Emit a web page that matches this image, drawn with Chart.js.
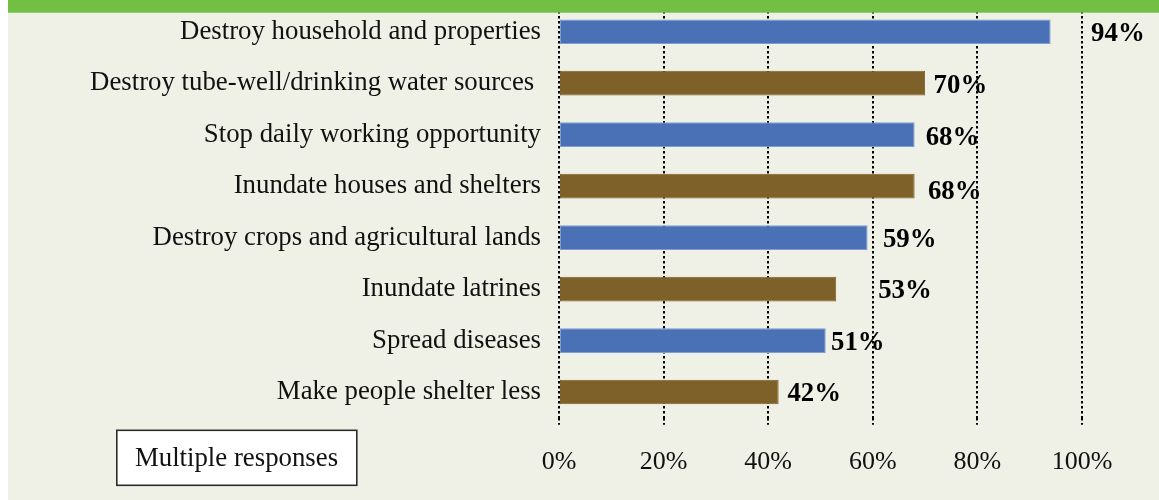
<!DOCTYPE html>
<html>
<head>
<meta charset="utf-8">
<script src="https://cdn.jsdelivr.net/npm/chart.js@4/dist/chart.umd.min.js"></script>
<style>
  html, body { margin: 0; padding: 0; background: #EFF1E7; }
  #wrap { width: 1159px; height: 500px; }
</style>
</head>
<body>
<div id="wrap"><canvas id="c" width="1159" height="500"></canvas></div>
<script>
// Effects reported by households (multiple responses, % of respondents)
const effects = [
  'Destroy household and properties',
  'Destroy tube-well/drinking water sources ',
  'Stop daily working opportunity',
  'Inundate houses and shelters',
  'Destroy crops and agricultural lands',
  'Inundate latrines',
  'Spread diseases',
  'Make people shelter less'
];
const shares = [94, 70, 68, 68, 59, 53, 51, 42];
const axisTicks = [0, 20, 40, 60, 80, 100];
const noteText = 'Multiple responses';

const SERIF = "'Liberation Serif', 'Times New Roman', serif";
const BLUE = '#4A71B6';
const BROWN = '#7E6029';

// Page furniture: background, header band, left margin strip, note box
const framePlugin = {
  id: 'frame',
  beforeDraw(chart) {
    const c = chart.ctx;
    c.save();
    c.fillStyle = '#EFF1E7';
    c.fillRect(0, 0, chart.width, chart.height);
    c.restore();
  },
  afterDraw(chart) {
    const c = chart.ctx;
    c.save();
    c.fillStyle = '#72BF44';
    c.fillRect(0, 0, chart.width, 12.7);
    c.fillStyle = '#FFFFFF';
    c.fillRect(0, 0, 8, chart.height);
    // note box
    c.fillStyle = '#FFFFFF';
    c.fillRect(116, 429.5, 241.5, 56.5);
    c.strokeStyle = '#2B2B2B';
    c.lineWidth = 1.6;
    c.strokeRect(116.8, 430.3, 240, 55);
    c.fillStyle = '#111111';
    c.font = '26.8px ' + SERIF;
    c.textAlign = 'center';
    c.textBaseline = 'alphabetic';
    c.fillText(noteText, 236.5, 466);
    c.restore();
  }
};

// Bold value labels at the end of each bar
const valueLabelPlugin = {
  id: 'valueLabels',
  afterDatasetsDraw(chart, args, opts) {
    const c = chart.ctx;
    const meta = chart.getDatasetMeta(0);
    c.save();
    c.fillStyle = '#000000';
    c.font = 'bold 26.8px ' + SERIF;
    c.textAlign = 'left';
    c.textBaseline = 'middle';
    meta.data.forEach((bar, i) => {
      const v = chart.data.datasets[0].data[i];
      const dx = opts.shiftX[i];
      const dy = opts.shiftY[i];
      c.fillText(v + '%', bar.x + dx, bar.y + dy + 1);
    });
    c.restore();
  }
};

Chart.defaults.font.family = SERIF;
Chart.defaults.color = '#111111';

new Chart(document.getElementById('c'), {
  type: 'bar',
  data: {
    labels: effects,
    datasets: [{
      data: shares,
      backgroundColor: ctx => (ctx.dataIndex % 2 === 0 ? BLUE : BROWN),
      borderColor: ctx => (ctx.dataIndex % 2 === 0 ? '#7E9CD2' : BROWN),
      borderWidth: 1,
      borderSkipped: false,
      categoryPercentage: 1,
      barPercentage: 0.48
    }]
  },
  options: {
    indexAxis: 'y',
    responsive: false,
    animation: false,
    events: [],
    layout: { padding: { top: 6, right: 77, bottom: 0, left: 0 } },
    plugins: {
      legend: { display: false },
      tooltip: { enabled: false },
      valueLabels: {
        shiftX: [40.5, 8.5, 11, 13.3, 15.4, 42, 5.3, 8.8],
        shiftY: [1.5, 1.4, 2.4, 5.4, 1.8, 1.0, 1.9, 1.2]
      }
    },
    scales: {
      x: {
        min: axisTicks[0],
        max: axisTicks[axisTicks.length - 1],
        afterBuildTicks(scale) {
          scale.ticks = axisTicks.map(v => ({ value: v }));
        },
        afterFit(scale) { scale.height = 82.25; },
        border: { display: false, dash: [2.5, 2.5] },
        grid: {
          color: '#000000',
          lineWidth: 2,
          drawTicks: true,
          tickLength: 7,
          tickColor: '#000000',
          tickWidth: 2,
          tickBorderDash: [2.5, 2.5]
        },
        ticks: {
          padding: 22,
          color: '#111111',
          font: { size: 26, family: SERIF },
          callback: v => v + '%'
        }
      },
      y: {
        afterFit(scale) {
          scale.width = 559;
          scale.paddingTop = 0;
          scale.paddingBottom = 0;
        },
        border: { display: false },
        grid: { display: false, drawTicks: false },
        ticks: {
          padding: 18,
          color: '#111111',
          font: { size: 26.8, family: SERIF }
        }
      }
    }
  },
  plugins: [framePlugin, valueLabelPlugin]
});
</script>
</body>
</html>
